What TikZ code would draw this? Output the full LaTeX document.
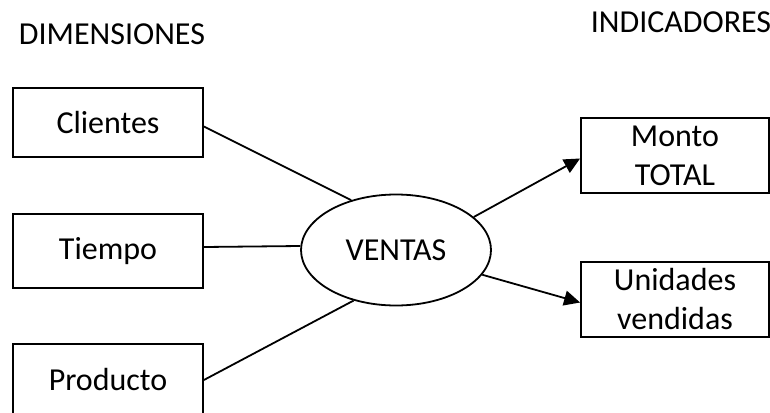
\documentclass[tikz,border=0pt]{standalone}
\usepackage{fontspec}
\setmainfont{Carlito}
\usetikzlibrary{shapes.geometric,arrows.meta}
\begin{document}
\begin{tikzpicture}[x=1pt,y=-1pt,
  lbl/.style={font=\fontsize{32}{39}\selectfont},
  dimbox/.style={draw,line width=1.8pt,minimum width=190pt,align=center,lbl,inner sep=0pt},
  indbox/.style={draw,line width=1.8pt,minimum width=188pt,minimum height=75pt,align=center,lbl,inner sep=0pt},
  conn/.style={line width=1.8pt},
  arr/.style={line width=1.8pt,-{Triangle[length=16pt,width=15pt]}}]
\useasboundingbox (0,0) rectangle (770,412);
\node[lbl] (hd) at (112,34) {DIMENSIONES};
\node[lbl] (hi) at (681,22) {INDICADORES};
\node[dimbox,minimum height=69pt] (cl) at (108,122.5) {Clientes};
\node[dimbox,minimum height=74pt] (ti) at (108,251) {Tiempo};
\node[dimbox,minimum height=72pt] (pr) at (108,380) {Producto};
\node[draw,ellipse,line width=1.8pt,minimum width=190pt,minimum height=111pt,inner sep=0pt,lbl] (v) at (396,250) {VENTAS};
\node[indbox] (mo) at (675,155.5) {Monto\\TOTAL};
\node[indbox] (un) at (675,299.5) {Unidades\\vendidas};
\draw[conn] ([yshift=-4pt]cl.east) -- (v.132);
\draw[conn] ([yshift=4pt]ti.east) -- ([yshift=4pt]v.west);
\draw[conn] (pr.east) -- (v.230);
\draw[arr] (v.23) -- ([yshift=-3pt]mo.west);
\draw[arr] (v.344) -- ([yshift=-3pt]un.west);
\end{tikzpicture}
\end{document}
